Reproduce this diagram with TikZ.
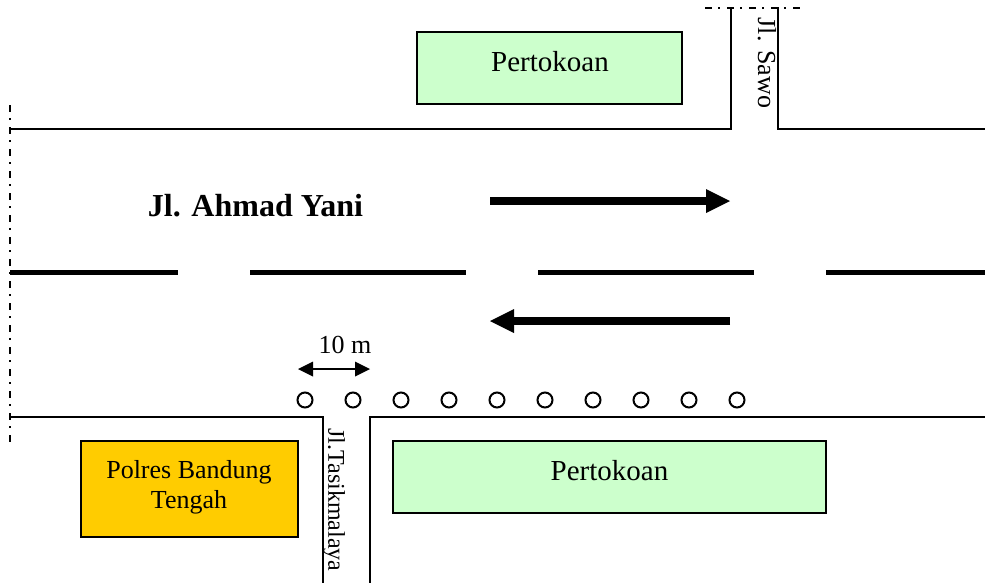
\documentclass[tikz,border=0pt]{standalone}
\usepackage{fontspec}
\setmainfont{Liberation Serif}
\usetikzlibrary{arrows.meta}
\tikzset{
  road/.style={draw=black,line width=2pt,line cap=rect},
  border/.style={draw=black,line width=1.5pt,dash pattern=on 7pt off 6pt on 2pt off 7pt},
  lane/.style={draw=black,line width=5pt},
  flow/.style={draw=black,line width=8pt,-{Triangle[length=24pt,width=24pt,line width=0pt]},shorten >=0pt},
  span/.style={draw=black,line width=2pt,{Triangle[length=15pt,width=15pt,line width=0pt]}-{Triangle[length=15pt,width=15pt,line width=0pt]}},
  shop/.style={draw=black,line width=1.5pt,fill=shopgreen,inner sep=0pt},
  office/.style={draw=black,line width=1.5pt,fill=officeorange,inner sep=0pt},
  cone/.style={circle,draw=black,line width=2pt,fill=white,minimum size=15pt,inner sep=0pt},
  lbl/.style={inner sep=0pt,font=\fontsize{29}{32}\selectfont},
  lblsmall/.style={inner sep=0pt,font=\fontsize{26}{30}\selectfont,align=center}
}
\definecolor{shopgreen}{HTML}{CCFFCC}
\definecolor{officeorange}{HTML}{FFCC00}
\begin{document}
\begin{tikzpicture}[x=1pt,y=-1pt]
\useasboundingbox (0,0) rectangle (985,582);
% free ends
\coordinate (bt) at (10,105);
\coordinate (bb) at (10,443);
\coordinate (tl) at (705,8);
\coordinate (tr) at (802,8);
\coordinate (a1) at (10,129);
\coordinate (a2) at (731,129);
\coordinate (a3) at (731,8);
\coordinate (b1) at (778,8);
\coordinate (b2) at (778,129);
\coordinate (b3) at (985,129);
\coordinate (c1) at (10,417);
\coordinate (c2) at (323,417);
\coordinate (c3) at (323,582);
\coordinate (d1) at (370,582);
\coordinate (d2) at (370,417);
\coordinate (d3) at (985,417);
% borders
\draw[border] (bt) -- (bb);
\draw[border] (tl) -- (tr);
% road edges
\draw[road] (a1) -- (a2) -- (a3);
\draw[road] (b1) -- (b2) -- (b3);
\draw[road] (c1) -- (c2) -- (c3);
\draw[road] (d1) -- (d2) -- (d3);
% lane markings
\foreach \n/\s/\e in {1/10/178,2/250/466,3/538/754,4/826/985}{
  \coordinate (ls\n) at (\s,272);
  \coordinate (le\n) at (\e,272);
  \draw[lane] (ls\n) -- (le\n);
}
% flow arrows
\coordinate (fa) at (490,201);
\coordinate (fb) at (730,201);
\coordinate (ga) at (730,321);
\coordinate (gb) at (490,321);
\draw[flow] (fa) -- (fb);
\draw[flow] (ga) -- (gb);
% buildings
\node[shop,minimum width=265pt,minimum height=72pt] (shopa) at (549.5,68) {};
\node[lbl] (shopat) at (550,62) {Pertokoan};
\node[shop,minimum width=433pt,minimum height=72pt] (shopb) at (609.5,477) {};
\node[lbl] (shopbt) at (609.5,471) {Pertokoan};
\node[office,minimum width=217pt,minimum height=96pt] (polres) at (189.5,489) {};
\node[lblsmall] (polrest) at (189,487) {Polres Bandung\\Tengah};
% labels
\node[inner sep=0pt,font=\fontsize{32}{36}\selectfont\bfseries] (yani) at (255.5,206) {Jl. Ahmad Yani};
\node[inner sep=0pt,rotate=-90,font=\fontsize{26}{30}\selectfont] (sawo) at (767,63) {Jl. Sawo};
\node[inner sep=0pt,rotate=-90,font=\fontsize{24}{28}\selectfont] (tasik) at (334,500) {Jl.Tasikmalaya};
\node[lblsmall] (tenm) at (345,345) {10 m};
% span
\coordinate (sa) at (298,369);
\coordinate (sb) at (370,369);
\draw[span] (sa) -- (sb);
% cones
\foreach \i/\x in {1/305,2/353,3/401,4/449,5/497,6/545,7/593,8/641,9/689,10/737}{
  \node[cone] (cone\i) at (\x,400) {};
}
\end{tikzpicture}
\end{document}
